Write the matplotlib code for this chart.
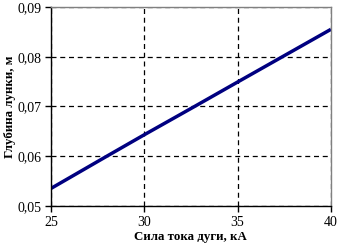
import matplotlib
matplotlib.use("Agg")
import matplotlib.pyplot as plt

current = [25, 28, 30, 32.7, 35, 37.5, 40]
depth = [0.0535, 0.0600, 0.0643, 0.0700, 0.0749, 0.0802, 0.0855]
xticks = [25, 30, 35, 40]
yticks = [0.05, 0.06, 0.07, 0.08, 0.09]
ytick_labels = ["0,05", "0,06", "0,07", "0,08", "0,09"]

plt.rcParams['font.family'] = ['Liberation Serif', 'DejaVu Serif']

fig = plt.figure(figsize=(3.39, 2.49), dpi=100)
ax = fig.add_axes([0.150, 0.173, 0.826, 0.799])
ax.plot(current, depth, color="#000080", lw=2.5, solid_capstyle='butt')
ax.set_xlim(25, 40)
ax.set_ylim(0.05, 0.09)
ax.set_xticks(xticks)
ax.set_xticklabels([str(t) for t in xticks])
ax.set_yticks(yticks)
ax.set_yticklabels(ytick_labels)
ax.grid(True, color="black", linestyle=(0, (4, 3)), linewidth=0.9)
ax.tick_params(direction='out', length=4, labelsize=10, width=1, pad=3)
for s in ['top', 'right']:
    ax.spines[s].set_color('#808080')
    ax.spines[s].set_linewidth(1)
for s in ['left', 'bottom']:
    ax.spines[s].set_color('black')
    ax.spines[s].set_linewidth(1)
ax.set_xlabel("Сила тока дуги, кА", fontsize=9.3, fontweight='bold', labelpad=2)
ax.set_ylabel("Глубина лунки, м", fontsize=9.3, fontweight='bold', labelpad=1)
fig.savefig("out.png", dpi=100)
